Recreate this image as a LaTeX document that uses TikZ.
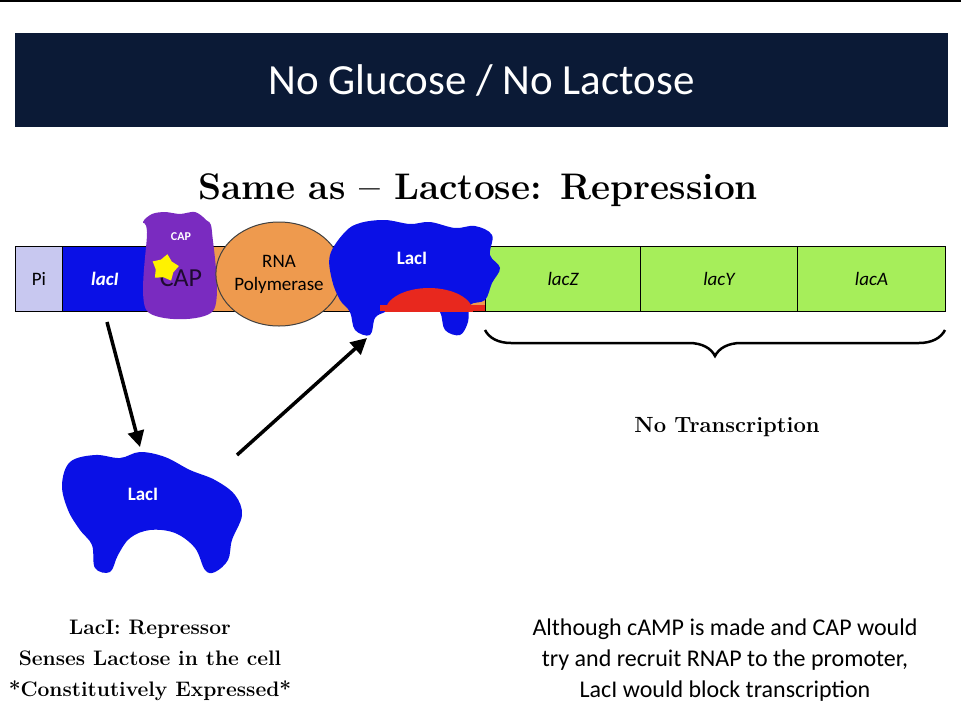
\documentclass[tikz,border=0pt]{standalone}
\usepackage{fontspec}
\setsansfont{Carlito}
\usetikzlibrary{shapes.geometric,decorations.pathreplacing,arrows.meta}
\definecolor{navy}{HTML}{0B1A36}
\definecolor{pil}{HTML}{C8C8F0}
\definecolor{lblue}{HTML}{0A10E6}
\definecolor{capp}{HTML}{7A2BC0}
\definecolor{orng}{HTML}{EE9A4E}
\definecolor{grn}{HTML}{A6EE5A}
\definecolor{redop}{HTML}{E8281E}
\begin{document}
\begin{tikzpicture}[x=1pt,y=-1pt,
  seg/.style={draw=black,line width=1pt},
  gtxt/.style={font=\sffamily\itshape\fontsize{19}{22}\selectfont},
  arr/.style={line width=3.5pt,-{Triangle[length=16pt,width=16pt]}},
  srf/.style={font=\rmfamily\bfseries\fontsize{21}{31}\selectfont,align=center}]
\useasboundingbox (0,0) rectangle (961,724);
\fill[white] (0,0) rectangle (961,724);
\draw[line width=2pt] (0,1) -- (961,1);
\node[fill=navy,minimum width=933pt,minimum height=94pt,inner sep=0pt,text=white,font=\sffamily\fontsize{43}{46}\selectfont] (hdr) at (481.5,80) {No Glucose / No Lactose};
\node[font=\rmfamily\bfseries\fontsize{37}{40}\selectfont] (title) at (478,190) {Same as -- Lactose: Repression};
% bar segments
\fill[orng] (212,246) rectangle (485,311);
\node[seg,fill=pil,minimum width=47pt,minimum height=65pt,inner sep=0pt,anchor=north west,font=\sffamily\fontsize{19}{22}\selectfont] (pi) at (15,246) {Pi};
\node[seg,fill=lblue,minimum width=85pt,minimum height=65pt,inner sep=0pt,anchor=north west,text=white,font=\sffamily\bfseries\itshape\fontsize{19}{22}\selectfont] (laci) at (62,246) {lacI};
\node[seg,fill=grn,minimum width=155pt,minimum height=65pt,inner sep=0pt,anchor=north west,gtxt] (lacz) at (485,246) {lacZ};
\node[seg,fill=grn,minimum width=157pt,minimum height=65pt,inner sep=0pt,anchor=north west,gtxt] (lacy) at (640,246) {lacY};
\node[seg,fill=grn,minimum width=148pt,minimum height=65pt,inner sep=0pt,anchor=north west,gtxt] (laca) at (797,246) {lacA};
\draw[line width=1pt] (15,246) -- (485,246) (15,311) -- (485,311);
% CAP
\fill[capp] plot[smooth cycle] coordinates {(147,311)(147,232)(143,222)(152,214)(165,212)(180,214)(195,212)(206,220)(212,232)(213,311)};
\node[text=white,font=\sffamily\bfseries\fontsize{12}{14}\selectfont] (caplbl) at (181,237) {CAP};
\node[font=\sffamily\fontsize{26}{28}\selectfont,text=black!75!capp] (captxt) at (181,278) {CAP};
\node[star,star points=5,fill=yellow,minimum size=28pt,inner sep=0pt,rotate=-10] (camp) at (165,268) {};
% RNA pol
\node[ellipse,draw=black!75,line width=1pt,fill=orng,minimum width=118pt,minimum height=104pt,font=\sffamily\fontsize{19}{23}\selectfont,align=center,inner sep=0pt] (rnap) at (279,274) {RNA\\Polymerase};
% LacI bound
\fill[lblue] plot[smooth cycle,tension=0.6] coordinates {(345,232)(360,223)(385,220)(410,224)(430,222)(455,228)(475,226)(492,235)(490,255)(500,268)(492,283)(485,300)(470,305)(468,322)(460,335)(445,330)(440,312)(428,305)(400,305)(385,312)(375,318)(370,335)(355,330)(350,312)(340,300)(332,280)(330,255)};
\begin{scope}
\clip (380,246) rectangle (485,311);
\fill[redop] (380,311) rectangle (485,305);
\fill[redop] (385,312) arc[start angle=180,end angle=360,x radius=44,y radius=24] -- cycle;
\end{scope}
\node[text=white,font=\sffamily\bfseries\fontsize{19}{22}\selectfont] (lacib) at (412,258) {LacI};
% free LacI
\fill[lblue] plot[smooth cycle,tension=0.6] coordinates {(70,462)(95,455)(120,458)(140,452)(165,457)(190,470)(215,480)(235,495)(242,515)(232,540)(228,560)(215,572)(205,570)(195,548)(175,533)(150,530)(130,538)(118,555)(110,572)(95,568)(92,545)(80,530)(68,510)(62,485)};
\node[text=white,font=\sffamily\bfseries\fontsize{19}{22}\selectfont] (lacif) at (143,494) {LacI};
% arrows
\coordinate (a1) at (107,322);
\coordinate (a1e) at (140,447);
\draw[arr] (a1) -- (a1e);
\coordinate (a2) at (237,455);
\coordinate (a2e) at (367,338);
\draw[arr] (a2) -- (a2e);
% brace
\draw[decorate,decoration={brace,amplitude=26pt,mirror,aspect=0.5},line width=2.5pt] (485,330) -- (945,330);
\node[font=\rmfamily\bfseries\fontsize{22}{25}\selectfont] (notr) at (727,427) {No Transcription};
\node[srf] (lt) at (150,660) {LacI: Repressor\\Senses Lactose in the cell\\*Constitutively Expressed*};
\node[font=\sffamily\fontsize{24}{31}\selectfont,align=center] (rt) at (725,660) {Although cAMP is made and CAP would\\try and recruit RNAP to the promoter,\\LacI would block transcription};
\end{tikzpicture}
\end{document}
